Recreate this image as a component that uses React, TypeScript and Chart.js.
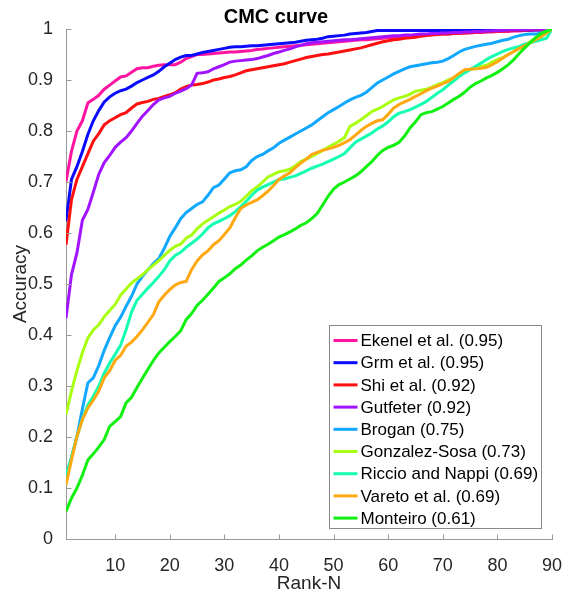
import React, { useEffect, useRef } from "react";
import { Chart, registerables } from "chart.js";

Chart.register(...registerables);

const ranks: number[] = Array.from({ length: 90 }, (_, i) => i + 1);
const xTickValues = [10, 20, 30, 40, 50, 60, 70, 80, 90];
const yTickValues = [0, 0.1, 0.2, 0.3, 0.4, 0.5, 0.6, 0.7, 0.8, 0.9, 1];

const seriesNames = [
  "Ekenel et al. (0.95)",
  "Grm et al. (0.95)",
  "Shi et al. (0.92)",
  "Gutfeter (0.92)",
  "Brogan (0.75)",
  "Gonzalez-Sosa (0.73)",
  "Riccio and Nappi (0.69)",
  "Vareto et al. (0.69)",
  "Monteiro (0.61)",
];

const seriesColors = [
  "#ff14a2",
  "#0a0aff",
  "#ff1010",
  "#a214ff",
  "#12a8ff",
  "#a8ff12",
  "#14ffb0",
  "#ffa812",
  "#12f012",
];

const ekenel = [
  0.701, 0.76, 0.8, 0.82, 0.855, 0.862, 0.87, 0.882, 0.89, 0.898,
  0.906, 0.908, 0.915, 0.922, 0.924, 0.924, 0.927, 0.929, 0.93, 0.93,
  0.93, 0.935, 0.942, 0.946, 0.95, 0.95, 0.951, 0.952, 0.953, 0.954,
  0.955, 0.955, 0.956, 0.957, 0.958, 0.96, 0.961, 0.962, 0.963, 0.964,
  0.965, 0.966, 0.967, 0.968, 0.969, 0.97, 0.971, 0.972, 0.973, 0.974,
  0.975, 0.976, 0.977, 0.978, 0.979, 0.979, 0.98, 0.981, 0.982, 0.983,
  0.984, 0.985, 0.985, 0.986, 0.987, 0.987, 0.988, 0.989, 0.989, 0.99,
  0.99, 0.991, 0.991, 0.992, 0.992, 0.993, 0.993, 0.994, 0.994, 0.995,
  0.995, 0.995, 0.996, 0.996, 0.997, 0.997, 0.998, 0.998, 0.999, 1.0,
];

const grm = [
  0.623, 0.705, 0.73, 0.76, 0.793, 0.82, 0.84, 0.857, 0.867, 0.874,
  0.879, 0.882, 0.888, 0.895, 0.9, 0.905, 0.91, 0.917, 0.926, 0.933,
  0.94, 0.945, 0.948, 0.948, 0.951, 0.954, 0.956, 0.958, 0.96, 0.962,
  0.964, 0.965, 0.965, 0.966, 0.967, 0.967, 0.968, 0.969, 0.97, 0.971,
  0.972, 0.973, 0.974, 0.976, 0.978, 0.979, 0.98, 0.982, 0.985, 0.986,
  0.987, 0.988, 0.99, 0.991, 0.992, 0.993, 0.995, 0.997, 0.997, 0.997,
  0.997, 0.997, 0.997, 0.997, 0.997, 0.997, 0.997, 0.997, 0.997, 0.997,
  0.997, 0.997, 0.997, 0.997, 0.997, 0.997, 0.997, 0.997, 0.997, 0.997,
  0.998, 0.998, 0.998, 0.998, 0.998, 0.998, 0.998, 0.998, 0.999, 1.0,
];

const shi = [
  0.577, 0.665, 0.705, 0.73, 0.755, 0.78, 0.795, 0.812, 0.82, 0.826,
  0.832, 0.836, 0.845, 0.853, 0.856, 0.858, 0.862, 0.864, 0.868, 0.871,
  0.875, 0.882, 0.887, 0.89, 0.891, 0.893, 0.896, 0.9, 0.902, 0.905,
  0.907, 0.91, 0.914, 0.918, 0.92, 0.922, 0.924, 0.926, 0.928, 0.93,
  0.932, 0.935, 0.938, 0.941, 0.944, 0.946, 0.948, 0.95, 0.951, 0.953,
  0.955, 0.957, 0.959, 0.961, 0.963, 0.966, 0.969, 0.972, 0.975, 0.977,
  0.979, 0.98, 0.982, 0.983, 0.984, 0.986, 0.987, 0.988, 0.989, 0.99,
  0.99, 0.991, 0.992, 0.992, 0.993, 0.994, 0.994, 0.995, 0.995, 0.996,
  0.996, 0.997, 0.997, 0.998, 0.998, 0.999, 0.999, 0.999, 1.0, 1.0,
];

const gutfeter = [
  0.433, 0.518, 0.561, 0.625, 0.646, 0.68, 0.715, 0.738, 0.752, 0.768,
  0.778, 0.787, 0.8, 0.815, 0.829, 0.84, 0.852, 0.861, 0.865, 0.868,
  0.874, 0.878, 0.883, 0.89, 0.913, 0.914, 0.916, 0.922, 0.926, 0.93,
  0.935, 0.937, 0.938, 0.939, 0.94, 0.942, 0.945, 0.948, 0.952, 0.955,
  0.958, 0.961, 0.965, 0.968, 0.971, 0.973, 0.974, 0.975, 0.976, 0.977,
  0.978, 0.979, 0.979, 0.98, 0.981, 0.982, 0.983, 0.984, 0.985, 0.986,
  0.987, 0.987, 0.988, 0.988, 0.989, 0.99, 0.99, 0.991, 0.991, 0.992,
  0.992, 0.993, 0.993, 0.994, 0.994, 0.995, 0.995, 0.996, 0.996, 0.997,
  0.997, 0.998, 0.998, 0.999, 0.999, 1.0, 1.0, 1.0, 1.0, 1.0,
];

const brogan = [
  0.123, 0.16, 0.201, 0.255, 0.306, 0.316, 0.34, 0.37, 0.395, 0.418,
  0.435, 0.456, 0.476, 0.5, 0.515, 0.528, 0.54, 0.55, 0.57, 0.593,
  0.61, 0.628, 0.64, 0.648, 0.656, 0.661, 0.674, 0.689, 0.694, 0.706,
  0.718, 0.722, 0.724, 0.73, 0.742, 0.75, 0.754, 0.761, 0.767, 0.776,
  0.782, 0.788, 0.794, 0.8, 0.806, 0.812, 0.82, 0.828, 0.836, 0.842,
  0.848, 0.855, 0.861, 0.866, 0.87, 0.876, 0.885, 0.894, 0.9, 0.906,
  0.912, 0.917, 0.922, 0.926, 0.928, 0.93, 0.932, 0.934, 0.935, 0.937,
  0.942, 0.948, 0.955, 0.96, 0.963, 0.966, 0.968, 0.97, 0.972, 0.975,
  0.978, 0.98, 0.984, 0.987, 0.989, 0.99, 0.99, 0.992, 0.996, 1.0,
];

const gonzalez = [
  0.244, 0.29, 0.33, 0.365, 0.394, 0.41, 0.42, 0.436, 0.448, 0.46,
  0.478, 0.49, 0.502, 0.51, 0.518, 0.528, 0.537, 0.546, 0.556, 0.566,
  0.574, 0.578, 0.59, 0.596, 0.608, 0.618, 0.625, 0.632, 0.639, 0.645,
  0.652, 0.656, 0.662, 0.672, 0.683, 0.69, 0.7, 0.71, 0.715, 0.72,
  0.722, 0.725, 0.732, 0.74, 0.745, 0.75, 0.756, 0.762, 0.768, 0.774,
  0.78, 0.787, 0.809, 0.815, 0.822, 0.83, 0.838, 0.843, 0.848, 0.855,
  0.861, 0.865, 0.868, 0.872, 0.878, 0.88, 0.882, 0.886, 0.891, 0.895,
  0.9, 0.904, 0.908, 0.918, 0.921, 0.924, 0.926, 0.929, 0.935, 0.94,
  0.944, 0.95, 0.956, 0.962, 0.968, 0.975, 0.983, 0.99, 0.996, 1.0,
];

const riccio = [
  0.123, 0.16, 0.2, 0.235, 0.263, 0.28, 0.3, 0.325, 0.345, 0.362,
  0.38, 0.41, 0.445, 0.468, 0.48, 0.492, 0.503, 0.515, 0.528, 0.545,
  0.556, 0.562, 0.572, 0.58, 0.588, 0.598, 0.61, 0.618, 0.623, 0.628,
  0.634, 0.642, 0.652, 0.662, 0.674, 0.684, 0.69, 0.695, 0.7, 0.705,
  0.706, 0.709, 0.712, 0.717, 0.722, 0.727, 0.731, 0.735, 0.74, 0.745,
  0.75, 0.756, 0.767, 0.778, 0.784, 0.79, 0.796, 0.804, 0.81, 0.818,
  0.828, 0.835, 0.838, 0.842, 0.847, 0.852, 0.858, 0.866, 0.874, 0.881,
  0.89, 0.898, 0.907, 0.914, 0.92, 0.927, 0.933, 0.94, 0.946, 0.951,
  0.956, 0.96, 0.963, 0.966, 0.97, 0.973, 0.976, 0.979, 0.982, 1.0,
];

const vareto = [
  0.106, 0.155, 0.201, 0.234, 0.257, 0.272, 0.29, 0.316, 0.33, 0.35,
  0.36, 0.378, 0.386, 0.397, 0.41, 0.425, 0.44, 0.465, 0.478, 0.489,
  0.498, 0.503, 0.505, 0.528, 0.545, 0.557, 0.565, 0.577, 0.585, 0.597,
  0.61, 0.63, 0.648, 0.655, 0.66, 0.665, 0.673, 0.682, 0.693, 0.705,
  0.712, 0.718, 0.728, 0.737, 0.745, 0.754, 0.758, 0.762, 0.765, 0.768,
  0.772, 0.777, 0.783, 0.792, 0.801, 0.809, 0.815, 0.82, 0.822, 0.833,
  0.845, 0.852, 0.857, 0.862, 0.868, 0.873, 0.879, 0.884, 0.888, 0.893,
  0.897, 0.905, 0.913, 0.92, 0.921, 0.922, 0.923, 0.925, 0.93, 0.936,
  0.943, 0.95, 0.956, 0.962, 0.967, 0.973, 0.979, 0.985, 0.992, 1.0,
];

const monteiro = [
  0.054, 0.08, 0.1, 0.125, 0.155, 0.167, 0.18, 0.195, 0.221, 0.23,
  0.24, 0.267, 0.278, 0.297, 0.315, 0.333, 0.35, 0.365, 0.376, 0.387,
  0.397, 0.408, 0.43, 0.442, 0.458, 0.468, 0.48, 0.492, 0.505, 0.512,
  0.52, 0.53, 0.537, 0.547, 0.555, 0.565, 0.572, 0.578, 0.585, 0.592,
  0.597, 0.602, 0.608, 0.615, 0.62, 0.628, 0.638, 0.655, 0.672, 0.686,
  0.695, 0.7, 0.706, 0.712, 0.72, 0.73, 0.74, 0.752, 0.762, 0.768,
  0.772, 0.778, 0.79, 0.806, 0.818, 0.832, 0.836, 0.838, 0.843, 0.848,
  0.855, 0.862, 0.868, 0.876, 0.886, 0.893, 0.898, 0.904, 0.909, 0.915,
  0.922, 0.93, 0.94, 0.952, 0.963, 0.973, 0.983, 0.991, 0.996, 1.0,
];

const seriesValues = [ekenel, grm, shi, gutfeter, brogan, gonzalez, riccio, vareto, monteiro];

const FONT = "'Liberation Sans', Arial, Helvetica, sans-serif";
const AXIS_COLOR = "#9a9a9a";
const TEXT_COLOR = "#262626";

const tickMarksPlugin = {
  id: "inwardTicks",
  afterDatasetsDraw(chart: any) {
    const { ctx, scales } = chart;
    const xs = scales.x;
    const ys = scales.y;
    ctx.save();
    ctx.strokeStyle = AXIS_COLOR;
    ctx.lineWidth = 1;
    const left = Math.round(xs.left) + 0.5;
    const bottom = Math.round(ys.bottom) + 0.5;
    ctx.beginPath();
    for (const v of yTickValues) {
      const py = Math.round(ys.getPixelForValue(v)) + 0.5;
      ctx.moveTo(left, py);
      ctx.lineTo(left + 5, py);
    }
    for (const v of xTickValues) {
      const px = Math.round(xs.getPixelForValue(v)) + 0.5;
      ctx.moveTo(px, bottom);
      ctx.lineTo(px, bottom - 5);
    }
    ctx.stroke();
    ctx.restore();
  },
};

const legendPlugin = {
  id: "boxLegend",
  afterDatasetsDraw(chart: any) {
    const { ctx } = chart;
    const bx = 329.5;
    const by = 325.5;
    const bw = 212;
    const bh = 203;
    ctx.save();
    ctx.fillStyle = "#ffffff";
    ctx.fillRect(bx, by, bw, bh);
    ctx.strokeStyle = "#8a8a8a";
    ctx.lineWidth = 1;
    ctx.strokeRect(bx, by, bw, bh);
    ctx.font = `17px ${FONT}`;
    ctx.textBaseline = "middle";
    ctx.textAlign = "left";
    seriesNames.forEach((name, i) => {
      const cy = by + 15 + i * 22.2;
      ctx.strokeStyle = seriesColors[i];
      ctx.lineWidth = 3;
      ctx.beginPath();
      ctx.moveTo(bx + 4, cy);
      ctx.lineTo(bx + 28, cy);
      ctx.stroke();
      ctx.fillStyle = "#000000";
      ctx.fillText(name, bx + 31, cy + 1);
    });
    ctx.restore();
  },
};

export default function App() {
  const canvasRef = useRef<HTMLCanvasElement | null>(null);

  useEffect(() => {
    if (!canvasRef.current) return;
    const datasets = seriesNames.map((name, i) => ({
      label: name,
      data: ranks.map((r, j) => ({ x: r, y: seriesValues[i][j] })),
      borderColor: seriesColors[i],
      backgroundColor: seriesColors[i],
      borderWidth: 3,
      pointRadius: 0,
      tension: 0,
      fill: false,
      order: seriesNames.length - i,
    }));

    const chart = new Chart(canvasRef.current, {
      type: "line",
      data: { datasets },
      plugins: [tickMarksPlugin, legendPlugin],
      options: {
        animation: false,
        responsive: false,
        maintainAspectRatio: false,
        layout: { padding: { left: 0, right: 12, top: 0, bottom: 0 } },
        plugins: {
          legend: { display: false },
          tooltip: { enabled: false },
          title: {
            display: true,
            text: "CMC curve",
            color: "#000000",
            font: { family: FONT, size: 20, weight: "bold" },
            padding: { top: 5, bottom: 0 },
          },
        },
        scales: {
          x: {
            type: "linear",
            min: 1,
            max: 90,
            afterBuildTicks: (scale: any) => {
              scale.ticks = xTickValues.map((v) => ({ value: v }));
            },
            afterFit: (scale: any) => {
              scale.height = 55;
              scale.paddingLeft = 0;
              scale.paddingRight = 0;
            },
            grid: { display: false },
            border: { display: true, color: AXIS_COLOR, width: 1 },
            ticks: {
              color: TEXT_COLOR,
              font: { family: FONT, size: 18 },
              padding: 8,
              maxRotation: 0,
              autoSkip: false,
            },
            title: {
              display: true,
              text: "Rank-N",
              color: TEXT_COLOR,
              font: { family: FONT, size: 19 },
              padding: { top: 0, bottom: -1 },
            },
          },
          y: {
            type: "linear",
            min: 0,
            max: 1,
            afterBuildTicks: (scale: any) => {
              scale.ticks = yTickValues.map((v) => ({ value: v }));
            },
            afterFit: (scale: any) => {
              scale.width = 66;
              scale.paddingTop = 0;
              scale.paddingBottom = 0;
            },
            grid: { display: false },
            border: { display: true, color: AXIS_COLOR, width: 1 },
            ticks: {
              color: TEXT_COLOR,
              font: { family: FONT, size: 18 },
              padding: 5,
              autoSkip: false,
              callback: (v: any) => String(Number(Number(v).toFixed(1))),
            },
            title: {
              display: true,
              text: "Accuracy",
              color: TEXT_COLOR,
              font: { family: FONT, size: 19 },
              padding: { top: 9, bottom: 0 },
            },
          },
        },
      },
    } as any);

    return () => chart.destroy();
  }, []);

  return (
    <div style={{ position: "absolute", left: 0, top: 0, width: 564, height: 594, background: "#ffffff" }}>
      <canvas ref={canvasRef} width={564} height={594} style={{ display: "block", width: 564, height: 594 }} />
    </div>
  );
}
